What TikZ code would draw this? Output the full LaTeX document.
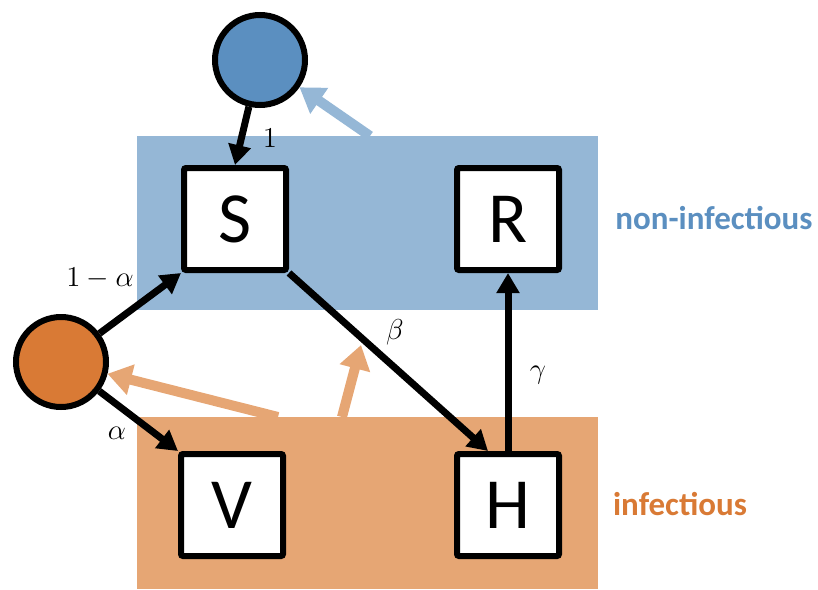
\documentclass[tikz,border=0pt]{standalone}
\usepackage{fontspec}
\setmainfont{Carlito}
\usetikzlibrary{arrows.meta, positioning}
\definecolor{nonblue}{HTML}{95B7D6}
\definecolor{darkblue}{HTML}{5B8FC0}
\definecolor{infor}{HTML}{E6A674}
\definecolor{darkor}{HTML}{D97A35}

\begin{document}
\begin{tikzpicture}[x=0.5pt, y=-0.5pt,
  comp/.style={draw, line width=3pt, fill=white, minimum size=51pt, inner sep=0pt, rounded corners=1pt, font=\fontsize{36}{36}\selectfont},
  src/.style={circle, draw, line width=3pt, minimum size=45pt, inner sep=0pt},
  flow/.style={line width=3.5pt, -{Triangle[length=10pt,width=11pt]}},
  feed/.style={line width=5pt, -{Triangle[length=12pt,width=15pt]}},
  rate/.style={font=\fontsize{14}{16}\selectfont}]
\useasboundingbox (0,0) rectangle (818,589);
% compartment groups
\node[fill=nonblue, minimum width=230.5pt, minimum height=87pt, inner sep=0pt] (noninf) at (367.5,223) {};
\node[fill=infor, minimum width=230.5pt, minimum height=86pt, inner sep=0pt] (inf) at (367.5,503) {};
\node[text=darkblue, font=\bfseries\fontsize{16.5}{18}\selectfont] (lnoninf) at (714,218) {non-infectious};
\node[text=darkor, font=\bfseries\fontsize{16.5}{18}\selectfont] (linf) at (680,504) {infectious};
% sources
\node[src, fill=darkblue] (bsrc) at (260,60) {};
\node[src, fill=darkor] (osrc) at (61,362) {};
% compartments
\node[comp] (S) at (235,219) {S};
\node[comp] (R) at (508,219) {R};
\node[comp] (V) at (232,505) {V};
\node[comp] (H) at (508,505) {H};
% feedback from the groups
\coordinate (bout) at (370,136);
\coordinate (oout1) at (278,417);
\coordinate (oout2) at (342,417);
\coordinate (obeta) at (361,345);
\draw[feed, nonblue] (bout) -- (bsrc);
\draw[feed, infor] (oout1) -- (osrc);
\draw[feed, infor] (oout2) -- (obeta);
% flows
\coordinate (Hin) at ([xshift=17pt]H.north west);
\draw[flow] (bsrc) -- (S.north);
\draw[flow] (osrc) -- (S.south west);
\draw[flow] (osrc) -- (V.north west);
\draw[flow] (S.south east) -- (Hin);
\draw[flow] (H.north) -- (R.south);
% rates
\node[rate] (lone) at (270,138) {$1$};
\node[rate] (lnotv) at (100,278) {$1-\alpha$};
\node[rate] (lvac) at (117,433) {$\alpha$};
\node[rate] (lbeta) at (395,332) {$\beta$};
\node[rate] (lgamma) at (538,375) {$\gamma$};
\end{tikzpicture}
\end{document}
